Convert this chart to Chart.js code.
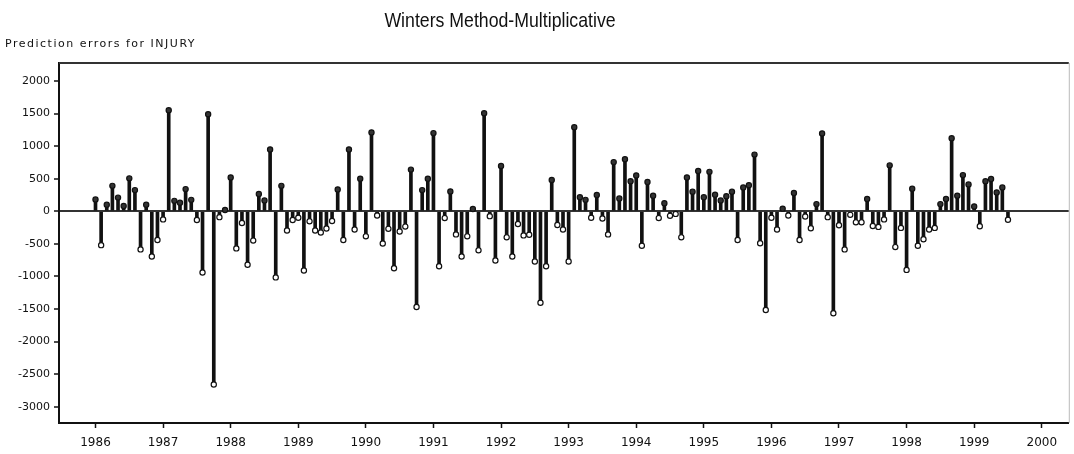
<!DOCTYPE html>
<html>
<head>
<meta charset="utf-8">
<title>Winters Method-Multiplicative</title>
<script src="https://cdn.jsdelivr.net/npm/chart.js@4/dist/chart.umd.min.js"></script>
<style>
  html, body { margin: 0; padding: 0; background: #fff; }
  #wrap { width: 1074px; height: 454px; }
</style>
</head>
<body>
<div id="wrap"><canvas id="c" width="1074" height="454"></canvas></div>
<script>
// Monthly prediction errors, January 1986 onward
const startYear = 1986;
const yearTicks = [1986, 1987, 1988, 1989, 1990, 1991, 1992, 1993, 1994, 1995, 1996, 1997, 1998, 1999, 2000];
const errorTicks = [2000, 1500, 1000, 500, 0, -500, -1000, -1500, -2000, -2500, -3000];
const errors = [
  180, -520, 100, 390, 210, 80, 505, 325, -585, 100, -695, -440,
  -125, 1550, 160, 130, 340, 175, -135, -940, 1490, -2660, -90, 20,
  520, -570, -180, -820, -450, 265, 165, 950, -1015, 390, -295, -135,
  -100, -910, -155, -295, -325, -265, -150, 335, -440, 950, -280, 500,
  -385, 1210, -65, -495, -270, -875, -310, -235, 640, -1470, 325, 500,
  1200, -845, -105, 305, -355, -695, -385, 35, -600, 1505, -75, -755,
  695, -400, -695, -195, -370, -360, -770, -1405, -845, 480, -210, -280,
  -770, 1290, 215, 175, -100, 250, -110, -355, 755, 195, 800, 460,
  550, -530, 450, 240, -105, 125, -70, -40, -400, 520, 300, 620,
  215, 605, 255, 165, 230, 300, -440, 365, 400, 870, -490, -1515,
  -100, -280, 40, -65, 280, -440, -80, -260, 110, 1195, -90, -1565,
  -215, -585, -55, -170, -170, 190, -225, -240, -125, 705, -550, -255,
  -900, 345, -530, -430, -280, -255, 110, 190, 1120, 240, 555, 410,
  75, -230, 460, 495, 290, 365, -130
];
const titleText = 'Winters Method-Multiplicative';
const subtitleText = 'Prediction errors for INJURY';

// each month sits at a fractional year on the x axis
const points = errors.map((v, i) => ({ x: startYear + i / 12, y: v }));

const frameAndTitles = {
  id: 'frameAndTitles',
  afterDraw(chart) {
    const { ctx, chartArea: a } = chart;
    ctx.save();
    // top frame line and faint right edge
    ctx.strokeStyle = '#333';
    ctx.lineWidth = 2;
    ctx.beginPath();
    ctx.moveTo(a.left, a.top);
    ctx.lineTo(a.right, a.top);
    ctx.stroke();
    ctx.strokeStyle = '#bbb';
    ctx.lineWidth = 1;
    ctx.beginPath();
    ctx.moveTo(a.right + 0.5, a.top);
    ctx.lineTo(a.right + 0.5, a.bottom);
    ctx.stroke();
    // main heading, horizontally condensed
    ctx.fillStyle = '#111';
    ctx.textBaseline = 'middle';
    ctx.textAlign = 'center';
    ctx.font = '21px "Liberation Sans", sans-serif';
    ctx.save();
    ctx.translate(500, 21);
    ctx.scale(0.843, 1);
    ctx.fillText(titleText, 0, 0);
    ctx.restore();
    // small heading above the plot
    ctx.textAlign = 'left';
    ctx.font = '11px "DejaVu Sans", sans-serif';
    ctx.letterSpacing = '1.5px';
    ctx.fillText(subtitleText, 5, 44);
    ctx.restore();
  }
};

new Chart(document.getElementById('c'), {
  type: 'bar',
  data: {
    datasets: [
      {
        type: 'scatter',
        data: points,
        order: 0,
        pointStyle: 'circle',
        pointRadius: 2.6,
        pointBorderWidth: 1.2,
        pointBorderColor: '#111',
        pointBackgroundColor: c => (c.raw && c.raw.y >= 0) ? '#333' : '#fff'
      },
      {
        type: 'bar',
        data: points,
        order: 1,
        backgroundColor: '#111',
        borderWidth: 0,
        barThickness: 3
      }
    ]
  },
  options: {
    responsive: false,
    devicePixelRatio: 1,
    animation: false,
    layout: { padding: { top: 63, right: 5, left: 0, bottom: 0 } },
    plugins: {
      legend: { display: false },
      tooltip: { enabled: false },
      title: { display: false }
    },
    scales: {
      x: {
        type: 'linear',
        offset: false,
        min: 1985.46,
        max: 2000.4,
        afterBuildTicks: s => { s.ticks = yearTicks.map(v => ({ value: v })); },
        afterFit: s => { s.height = 31; },
        ticks: {
          callback: v => String(v),
          font: { family: 'DejaVu Sans', size: 12 },
          color: '#111',
          padding: 8,
          maxRotation: 0,
          autoSkip: false
        },
        grid: { offset: false, drawOnChartArea: false, tickLength: 5, tickColor: '#111', tickWidth: 1.5 },
        border: { color: '#111', width: 2 }
      },
      y: {
        type: 'linear',
        min: -3250,
        max: 2276,
        afterBuildTicks: s => { s.ticks = errorTicks.map(v => ({ value: v })); },
        afterFit: s => { s.width = 59; },
        ticks: {
          callback: v => String(v),
          font: { family: 'DejaVu Sans', size: 11 },
          color: '#111',
          padding: 4
        },
        grid: {
          color: c => (c.tick && c.tick.value === 0) ? '#333' : 'rgba(0,0,0,0)',
          lineWidth: 2,
          tickLength: 5,
          tickColor: '#111',
          tickWidth: 1.5
        },
        border: { color: '#111', width: 2 }
      }
    }
  },
  plugins: [frameAndTitles]
});
</script>
</body>
</html>
